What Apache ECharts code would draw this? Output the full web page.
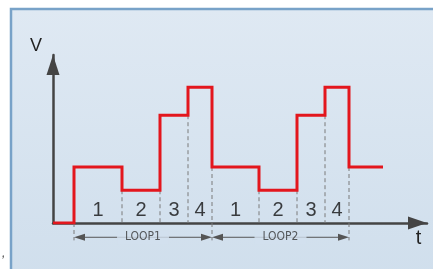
<!DOCTYPE html>
<html>
<head>
<meta charset="utf-8">
<script src="https://cdn.jsdelivr.net/npm/echarts@6/dist/echarts.min.js"></script>
<style>
  html, body { margin: 0; padding: 0; background: #fff; }
  #main { width: 433px; height: 269px; }
</style>
</head>
<body>
<div id="main"></div>
<script>
// step times (t) and the voltage held after each one
const stepTimes = [0, 21, 69, 107, 135, 159, 206, 244, 272, 296, 330]
const stepLevels = [0, 2.0, 1.17, 3.85, 4.85, 2.0, 1.17, 3.85, 4.85, 2.0]

// dashed guides: time, top and bottom voltage
const dashTimes = [21, 69, 107, 135, 159, 206, 244, 272, 296]
const dashTops = [2.0, 1.17, 1.17, 3.85, 2.0, 1.17, 1.17, 3.85, 2.0]
const dashBottoms = [-0.62, 0, 0, 0, -0.62, 0, 0, 0, -0.62]

// phase numbers inside each loop
const phaseNames = ['1', '2', '3', '4', '1', '2', '3', '4']
const phaseLabelV = 0.45

// loops
const loopNames = ['LOOP1', 'LOOP2']
const loopStarts = [21, 159]
const loopEnds = [159, 296]
const loopV = -0.51

const chart = echarts.init(document.getElementById('main'))

const stepData = []
stepLevels.forEach((v, i) => {
  stepData.push([stepTimes[i], v])
  stepData.push([stepTimes[i + 1], v])
})

const phaseData = phaseNames.map((n, i) => {
  return [(stepTimes[i + 1] + stepTimes[i + 2]) / 2, phaseLabelV, n]
})

const dashSeries = dashTimes.map((t, i) => {
  return {
    type: 'line',
    data: [[t, dashTops[i]], [t, dashBottoms[i]]],
    symbol: 'none',
    clip: false,
    silent: true,
    z: 1,
    lineStyle: { color: '#7a7a7a', width: 1, type: [4, 3] }
  }
})

// double arrows under each loop, arrow tip sits on the loop edge
const arrowLen = 11
const loopSeries = loopNames.map((n, i) => {
  return {
    type: 'line',
    data: [
      { value: [loopStarts[i] + arrowLen / 2, loopV], symbolRotate: 90 },
      { value: [loopEnds[i] - arrowLen / 2, loopV], symbolRotate: -90 }
    ],
    symbol: 'triangle',
    symbolSize: [7, arrowLen],
    showAllSymbol: true,
    clip: false,
    silent: true,
    z: 1,
    itemStyle: { color: '#555' },
    lineStyle: { color: '#555', width: 1 }
  }
})

const loopLabelData = loopNames.map((n, i) => {
  return [(loopStarts[i] + loopEnds[i]) / 2, loopV, n]
})

const axisLine = {
  show: true,
  symbol: ['none', 'triangle'],
  lineStyle: { color: '#444', width: 2.5 }
}

chart.setOption({
  animation: false,
  graphic: [
    {
      type: 'rect',
      z: -10,
      shape: { x: 11, y: 9, width: 440, height: 280 },
      style: {
        fill: new echarts.graphic.LinearGradient(0, 0, 0, 1, [
          { offset: 0, color: '#dfe9f3' },
          { offset: 1, color: '#cfdeec' }
        ]),
        stroke: '#78a2c8',
        lineWidth: 2.5
      }
    },
    {
      type: 'text',
      left: 2,
      top: 248,
      style: { text: ',', fill: '#333', font: 'italic 12px "Liberation Sans"' }
    }
  ],
  grid: { left: 53, right: 6, top: 55, bottom: 46 },
  xAxis: {
    type: 'value',
    min: 0,
    max: 374,
    name: 't',
    nameLocation: 'end',
    nameGap: -8.5,
    nameTextStyle: {
      fontFamily: 'Liberation Sans', fontSize: 20, color: '#222',
      align: 'center', verticalAlign: 'top', padding: [5, 0, 0, 0]
    },
    axisLine: Object.assign({}, axisLine, { symbolSize: [13, 19], symbolOffset: [0, -9.5] }),
    axisTick: { show: false },
    axisLabel: { show: false },
    splitLine: { show: false }
  },
  yAxis: {
    type: 'value',
    min: 0,
    max: 6,
    name: 'V',
    nameLocation: 'end',
    nameGap: 9,
    nameTextStyle: {
      fontFamily: 'Liberation Sans', fontSize: 18, color: '#222',
      align: 'right', verticalAlign: 'middle', padding: [0, 11, 0, 0]
    },
    axisLine: Object.assign({}, axisLine, { symbolSize: [13, 20], symbolOffset: [0, -10] }),
    axisTick: { show: false },
    axisLabel: { show: false },
    splitLine: { show: false }
  },
  series: [
    ...dashSeries,
    ...loopSeries,
    {
      type: 'line',
      data: stepData,
      symbol: 'none',
      silent: true,
      z: 3,
      lineStyle: { color: '#e3161d', width: 3, join: 'miter' }
    },
    {
      type: 'scatter',
      data: phaseData,
      symbolSize: 0,
      silent: true,
      itemStyle: { color: 'transparent' },
      label: {
        show: true,
        position: 'inside',
        formatter: p => p.value[2],
        fontFamily: 'Liberation Sans',
        fontSize: 20,
        color: '#111'
      }
    },
    {
      type: 'scatter',
      data: loopLabelData,
      symbolSize: 0,
      clip: false,
      silent: true,
      z: 4,
      itemStyle: { color: 'transparent' },
      label: {
        show: true,
        position: 'inside',
        formatter: p => p.value[2],
        fontFamily: 'DejaVu Sans Condensed',
        fontSize: 12,
        color: '#333',
        backgroundColor: '#d2e0ed',
        padding: [1, 8]
      }
    }
  ]
})
</script>
</body>
</html>
